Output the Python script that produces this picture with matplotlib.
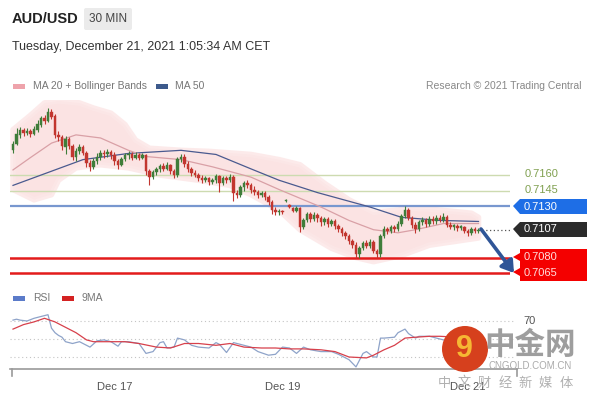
import matplotlib
matplotlib.use("Agg")
import matplotlib.pyplot as plt
from matplotlib.patches import Polygon, FancyBboxPatch, Circle, Rectangle

plt.rcParams['font.family'] = ['Liberation Sans', 'DejaVu Sans']

# ---------------- data ----------------
opens = [0.7184,0.7190,0.7199,0.7204,0.7201,0.7203,0.7200,0.7204,0.7209,0.7215,
         0.7212,0.7221,0.7217,0.7199,0.7197,0.7187,0.7195,0.7188,0.7178,0.7183,
         0.7187,0.7181,0.7172,0.7168,0.7174,0.7178,0.7181,0.7180,0.7182,0.7179,
         0.7174,0.7170,0.7176,0.7179,0.7180,0.7177,0.7179,0.7177,0.7179,0.7164,
         0.7158,0.7163,0.7166,0.7169,0.7166,0.7170,0.7164,0.7160,0.7176,0.7178,
         0.7171,0.7166,0.7162,0.7160,0.7157,0.7155,0.7157,0.7153,0.7155,0.7159,
         0.7152,0.7157,0.7155,0.7158,0.7143,0.7141,0.7148,0.7152,0.7150,0.7146,
         0.7144,0.7141,0.7143,0.7139,0.7134,0.7126,0.7124,0.7125,0.7135,0.7131,
         0.7128,0.7125,0.7128,0.7110,0.7116,0.7122,0.7117,0.7121,0.7118,0.7114,
         0.7117,0.7113,0.7115,0.7111,0.7108,0.7104,0.7101,0.7096,0.7092,0.7083,
         0.7089,0.7094,0.7091,0.7095,0.7086,0.7083,0.7101,0.7108,0.7106,0.7110,
         0.7108,0.7113,0.7120,0.7126,0.7118,0.7112,0.7108,0.7114,0.7116,0.7113,
         0.7117,0.7115,0.7118,0.7116,0.7119,0.7112,0.7110,0.7111,0.7109,0.7110,
         0.7106,0.7104,0.7108,0.7106]
highs = [0.7193,0.7206,0.7207,0.7206,0.7206,0.7205,0.7208,0.7213,0.7217,0.7218,
         0.7225,0.7224,0.7219,0.7203,0.7199,0.7198,0.7197,0.7190,0.7186,0.7190,
         0.7189,0.7183,0.7175,0.7177,0.7181,0.7184,0.7184,0.7185,0.7184,0.7182,
         0.7176,0.7178,0.7181,0.7183,0.7182,0.7182,0.7181,0.7181,0.7180,0.7166,
         0.7165,0.7168,0.7171,0.7172,0.7173,0.7171,0.7166,0.7178,0.7180,0.7180,
         0.7174,0.7168,0.7165,0.7162,0.7160,0.7159,0.7158,0.7157,0.7161,0.7160,
         0.7159,0.7159,0.7161,0.7160,0.7146,0.7150,0.7154,0.7155,0.7152,0.7149,
         0.7146,0.7145,0.7145,0.7141,0.7136,0.7129,0.7127,0.7126,0.7137,0.7132,
         0.7129,0.7130,0.7129,0.7118,0.7124,0.7124,0.7124,0.7123,0.7120,0.7119,
         0.7119,0.7117,0.7117,0.7113,0.7110,0.7106,0.7103,0.7098,0.7095,0.7091,
         0.7096,0.7097,0.7098,0.7097,0.7088,0.7103,0.7111,0.7110,0.7112,0.7112,
         0.7115,0.7122,0.7130,0.7128,0.7120,0.7114,0.7116,0.7119,0.7118,0.7120,
         0.7120,0.7121,0.7121,0.7123,0.7121,0.7114,0.7113,0.7113,0.7112,0.7111,
         0.7108,0.7110,0.7110,0.7109]
lows = [0.7181,0.7189,0.7196,0.7198,0.7199,0.7197,0.7199,0.7202,0.7207,0.7210,
        0.7211,0.7214,0.7196,0.7193,0.7184,0.7180,0.7185,0.7175,0.7174,0.7180,
        0.7179,0.7168,0.7164,0.7166,0.7171,0.7175,0.7177,0.7178,0.7176,0.7170,
        0.7166,0.7169,0.7174,0.7176,0.7175,0.7176,0.7175,0.7176,0.7160,0.7150,
        0.7156,0.7160,0.7163,0.7164,0.7165,0.7161,0.7157,0.7158,0.7173,0.7168,
        0.7163,0.7159,0.7158,0.7154,0.7152,0.7153,0.7150,0.7151,0.7152,0.7144,
        0.7150,0.7152,0.7153,0.7135,0.7138,0.7139,0.7145,0.7147,0.7143,0.7141,
        0.7138,0.7139,0.7136,0.7131,0.7122,0.7121,0.7121,0.7122,0.7134,0.7128,
        0.7124,0.7124,0.7105,0.7108,0.7114,0.7114,0.7115,0.7114,0.7111,0.7112,
        0.7110,0.7111,0.7108,0.7105,0.7101,0.7098,0.7093,0.7089,0.7080,0.7080,
        0.7087,0.7089,0.7089,0.7084,0.7080,0.7081,0.7099,0.7103,0.7104,0.7105,
        0.7106,0.7111,0.7118,0.7116,0.7109,0.7104,0.7106,0.7112,0.7110,0.7111,
        0.7113,0.7113,0.7114,0.7114,0.7110,0.7108,0.7107,0.7106,0.7107,0.7104,
        0.7101,0.7102,0.7104,0.7104]
closes = [0.7190,0.7200,0.7204,0.7201,0.7203,0.7200,0.7205,0.7210,0.7215,0.7212,
          0.7221,0.7216,0.7199,0.7197,0.7188,0.7195,0.7188,0.7178,0.7183,0.7187,
          0.7181,0.7172,0.7168,0.7174,0.7178,0.7181,0.7180,0.7182,0.7179,0.7174,
          0.7170,0.7176,0.7179,0.7180,0.7177,0.7179,0.7177,0.7179,0.7164,0.7158,
          0.7163,0.7166,0.7169,0.7166,0.7170,0.7164,0.7160,0.7176,0.7178,0.7171,
          0.7166,0.7162,0.7160,0.7157,0.7155,0.7157,0.7153,0.7155,0.7159,0.7152,
          0.7157,0.7155,0.7158,0.7143,0.7141,0.7148,0.7152,0.7150,0.7146,0.7144,
          0.7141,0.7143,0.7139,0.7134,0.7126,0.7124,0.7125,0.7124,0.7136,0.7129,
          0.7125,0.7128,0.7110,0.7116,0.7122,0.7117,0.7121,0.7118,0.7114,0.7117,
          0.7113,0.7115,0.7111,0.7108,0.7104,0.7101,0.7096,0.7092,0.7083,0.7089,
          0.7094,0.7091,0.7095,0.7086,0.7083,0.7101,0.7108,0.7106,0.7110,0.7108,
          0.7113,0.7120,0.7126,0.7118,0.7112,0.7108,0.7114,0.7116,0.7113,0.7117,
          0.7115,0.7118,0.7116,0.7119,0.7112,0.7110,0.7111,0.7109,0.7110,0.7106,
          0.7104,0.7108,0.7106,0.7107]

ma20_idx = [0, 5, 11, 18, 25, 33, 38, 48, 57, 68, 76, 88, 96, 103, 110, 115, 123, 133]
ma20_val = [0.7165, 0.7177, 0.7191, 0.7199, 0.7196, 0.7184, 0.7178, 0.7175, 0.7168,
            0.7158, 0.7146, 0.7129, 0.7116, 0.7107, 0.7104, 0.7107, 0.7113, 0.7113]

ma50_idx = [0, 8, 20, 33, 48, 58, 68, 76, 87, 102, 111, 122, 133]
ma50_val = [0.7150, 0.7160, 0.7175, 0.7181, 0.7184, 0.7180, 0.7166, 0.7155, 0.7143,
            0.7129, 0.7119, 0.7116, 0.7115]

bbu_idx = [0, 5, 9, 13, 19, 23, 28, 32, 35, 39, 48, 56, 68, 76, 82, 89, 96, 103, 110, 113, 119, 131, 133]
bbu_val = [0.7204, 0.7218, 0.7230, 0.7232, 0.7230, 0.7225, 0.7220, 0.7209, 0.7194,
           0.7186, 0.7184, 0.7183, 0.7180, 0.7175, 0.7170, 0.7152, 0.7136, 0.7124,
           0.7126, 0.7128, 0.7127, 0.7123, 0.7119]
bbl_idx = [0, 6, 11, 13, 18, 25, 33, 42, 53, 62, 68, 76, 82, 91, 98, 103, 111, 119, 133]
bbl_val = [0.7146, 0.7136, 0.7141, 0.7155, 0.7167, 0.7170, 0.7167, 0.7160, 0.7155,
           0.7150, 0.7141, 0.7126, 0.7107, 0.7089, 0.7080, 0.7076, 0.7082, 0.7092, 0.7099]

rsi_idx = [0, 1, 2, 4, 6, 8, 9, 10, 11, 12, 13, 14, 15, 17, 19, 21, 22, 24, 26, 28,
           30, 31, 33, 36, 38, 40, 42, 43, 44, 46, 47, 49, 51, 53, 56, 58, 59, 61, 63,
           66, 68, 70, 73, 75, 77, 79, 81, 83, 85, 88, 91, 93, 96, 98, 100, 101, 103,
           104, 105, 106, 109, 110, 112, 113, 115, 116, 119, 121, 125, 129, 133]
rsi_val = [71, 72, 71, 70, 73, 75, 76, 77, 62, 57, 54, 52, 47, 45, 47, 43, 41, 48, 49, 47,
           42, 47, 47, 45, 34, 36, 46, 47, 40, 41, 51, 49, 43, 41, 40, 46, 44, 35, 46,
           43, 41, 36, 32, 33, 41, 40, 34, 41, 38, 36, 36, 33, 27, 19, 34, 36, 30,
           30, 51, 51, 52, 57, 61, 56, 51, 53, 53, 51, 47, 45, 46]
ma9_idx = [0, 3, 6, 9, 12, 15, 18, 21, 23, 28, 32, 36, 41, 45, 49, 53, 58, 62, 66, 71,
           75, 79, 83, 88, 92, 96, 101, 103, 106, 109, 112, 115, 119, 122, 127, 133]
ma9_val = [61, 66, 69, 73, 69, 63, 57, 49, 47, 47, 47, 45, 41, 40, 45, 45, 43, 45, 41, 40,
           40, 39, 39, 38, 36, 30, 29, 32, 38, 43, 51, 52, 53, 53, 52, 50]

levels_green = [0.7160, 0.7145]
level_blue = 0.7130
level_last = 0.7107
levels_red = [0.7080, 0.7065]
date_idx = [29, 77, 130]
date_labels = ["Dec 17", "Dec 19", "Dec 21"]
wm_chars = ["中", "文", "财", "经", "新", "媒", "体"]

# ---------------- layout helpers ----------------
W, H = 590, 400
fig = plt.figure(figsize=(W / 100, H / 100), dpi=100)
fig.patch.set_facecolor('white')


def px2i(px):
    return (px - 13) / 3.5


def box(l, t, r, b):
    return [l / W, 1 - b / H, (r - l) / W, (b - t) / H]


def overlay():
    o = fig.add_axes([0, 0, 1, 1])
    o.set_xlim(0, W)
    o.set_ylim(H, 0)
    o.axis('off')
    o.patch.set_alpha(0)
    return o


ov = overlay()

# main price axes
ax = fig.add_axes(box(10, 100, 510, 282))
ax.set_xlim(px2i(10), px2i(510))
ax.set_ylim(0.7130 - 76 * 0.000097, 0.7130 + 106 * 0.000097)
ax.axis('off')
ax.patch.set_alpha(0)

n = len(closes)
xs = list(range(n))

# Bollinger band fill
band_x = bbu_idx + bbl_idx[::-1]
band_y = bbu_val + bbl_val[::-1]
ax.add_patch(Polygon(list(zip(band_x, band_y)), closed=True, facecolor='#fbdede',
                     edgecolor='#fce7e7', lw=4, alpha=0.85, zorder=1, joinstyle='round'))

for y in levels_green:
    ax.axhline(y, color='#cddbb0', lw=1.0, zorder=2)
ax.axhline(level_blue, color='#7897cf', lw=1.6, zorder=2)
for y in levels_red:
    ax.axhline(y, color='#e31b1b', lw=1.8, zorder=2)

ax.plot(ma50_idx, ma50_val, color='#4a5a8f', lw=0.9, zorder=3)
ax.plot(ma20_idx, ma20_val, color='#d9a0a6', lw=0.9, zorder=3)

up_c, dn_c = '#3f7d3a', '#c2362f'
for i in xs:
    o, h, l, c = opens[i], highs[i], lows[i], closes[i]
    col = up_c if c >= o else dn_c
    ax.vlines(i, l, h, color=col, lw=0.8, zorder=4)
    bot = min(o, c)
    hgt = max(abs(c - o), 0.00012)
    ax.bar(i, hgt, bottom=bot, width=0.75, color=col, edgecolor=col, lw=0.3, zorder=5)

ax.plot([n, px2i(512)], [level_last, level_last], ls=(0, (1, 2)), color='#555555', lw=0.9, zorder=3)

# RSI axes
ar = fig.add_axes(box(10, 305, 517, 369))
ar.patch.set_alpha(0)
ar.set_xlim(px2i(10), px2i(517))
ar.set_ylim(70 - 48 / 0.9, 70 + 16 / 0.9)
for s in ['top', 'right', 'left']:
    ar.spines[s].set_visible(False)
ar.spines['bottom'].set_color('#9a9a9a')
ar.spines['bottom'].set_linewidth(1.2)
ar.set_yticks([])
for lv in [70, 50, 30]:
    ar.plot([px2i(10), px2i(513)], [lv, lv], ls=(0, (1, 2.5)), color='#c4c4c4', lw=0.8)
ar.plot(rsi_idx, rsi_val, color='#8ea3c9', lw=0.9, zorder=3)
ar.plot(ma9_idx, ma9_val, color='#d7404b', lw=0.9, zorder=4)
ar.set_xticks(date_idx)
ar.set_xticklabels(date_labels, fontsize=8, color='#555555')
ar.tick_params(axis='x', length=0, pad=9)
ov.plot([12, 12], [369, 376], color='#9a9a9a', lw=1.2)
ov.plot([517, 517], [369, 376], color='#9a9a9a', lw=1.2)
ov.text(530, 321, "70", fontsize=8, color='#555555', ha='center', va='center')

# ---------------- header ----------------
ov.text(12, 19, "AUD/USD", fontsize=10.5, fontweight='bold', color='#222222', va='center')
ov.add_patch(FancyBboxPatch((84, 8), 48, 22, boxstyle="round,pad=0,rounding_size=2",
                            facecolor='#ebebeb', edgecolor='none'))
ov.text(108, 19, "30 MIN", fontsize=8.5, color='#444444', ha='center', va='center')
ov.text(12, 47, "Tuesday, December 21, 2021 1:05:34 AM CET", fontsize=9, color='#333333', va='center')

ov.add_patch(Rectangle((13, 84), 12, 4.5, facecolor='#eea3ab', edgecolor='none'))
ov.text(33, 86, "MA 20 + Bollinger Bands", fontsize=7.5, color='#777777', va='center')
ov.add_patch(Rectangle((156, 84), 12, 4.5, facecolor='#3d5a8c', edgecolor='none'))
ov.text(175, 86, "MA 50", fontsize=7.5, color='#777777', va='center')
ov.text(581, 86, "Research \u00a9 2021 Trading Central", fontsize=7.5, color='#888888',
        va='center', ha='right')

ov.add_patch(Rectangle((13, 296), 12, 4.5, facecolor='#5b7bc9', edgecolor='none'))
ov.text(33, 298, "RSI", fontsize=7.5, color='#777777', va='center')
ov.add_patch(Rectangle((62, 296), 12, 4.5, facecolor='#d42222', edgecolor='none'))
ov.text(82, 298, "9MA", fontsize=7.5, color='#777777', va='center')

# ---------------- right labels ----------------
ov.text(525, 174, "0.7160", fontsize=8, color='#80a050', va='center')
ov.text(525, 190, "0.7145", fontsize=8, color='#80a050', va='center')
ov.add_patch(Polygon([(513, 206), (520, 199), (587, 199), (587, 214), (520, 214)],
                     closed=True, facecolor='#1e6ee6', edgecolor='none'))
ov.text(524, 206.5, "0.7130", fontsize=8, color='white', va='center')
ov.add_patch(Polygon([(513, 229), (520, 222), (587, 222), (587, 237), (520, 237)],
                     closed=True, facecolor='#2b2b2b', edgecolor='none'))
ov.text(524, 229.5, "0.7107", fontsize=8, color='white', va='center')
ov.add_patch(Polygon([(520, 249), (587, 249), (587, 281), (520, 281), (520, 276), (513, 272),
                      (520, 268), (520, 261), (513, 257), (520, 253)],
                     closed=True, facecolor='#f40000', edgecolor='none'))
ov.text(524, 257, "0.7080", fontsize=8, color='#ffdede', va='center')
ov.text(524, 272.5, "0.7065", fontsize=8, color='#ffdede', va='center')

# ---------------- watermark (on top) ----------------
wm = overlay()
wm.annotate("", xy=(514, 273), xytext=(481, 229),
            arrowprops=dict(arrowstyle='-|>,head_length=0.7,head_width=0.45',
                            color='#2f5597', lw=2.6, shrinkA=0, shrinkB=0))
wm.add_patch(Circle((465, 349), 23, facecolor='#d6401d', edgecolor='none', zorder=10))
wm.text(464, 349, "9", fontsize=22, fontweight='bold', color='#f6b733', ha='center',
        va='center', zorder=11)
cjk = ['Noto Sans CJK SC', 'DejaVu Sans']
wm.text(530, 345, "中金网", fontsize=22, fontweight='bold', color='#9e9e9e', ha='center',
        va='center', family=cjk, zorder=10)
wm.text(530, 366, "CNGOLD.COM.CN", fontsize=7, color='#aaaaaa', ha='center', va='center', zorder=10)
for k, ch in enumerate(wm_chars):
    wm.text(444 + k * 20.3, 383, ch, fontsize=9.5, color='#b0b0b0', ha='center',
            va='center', family=cjk, zorder=10)

fig.savefig("out.png", dpi=100, facecolor='white')
